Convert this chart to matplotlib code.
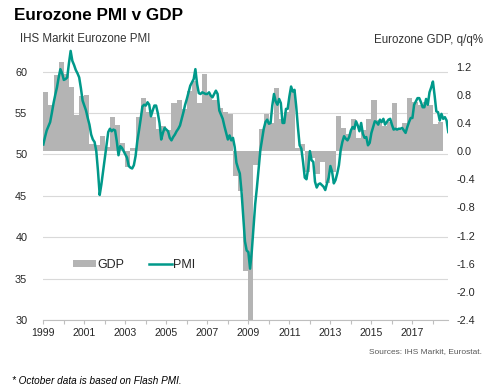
import matplotlib
matplotlib.use("Agg")
import matplotlib.pyplot as plt
from matplotlib.patches import Patch
from matplotlib.lines import Line2D
import numpy as np

plt.rcParams['font.family'] = ['Liberation Sans', 'DejaVu Sans']

# IHS Markit Eurozone composite PMI, monthly, Jan 1999 - Oct 2018
pmi = [
    51.2, 52.1, 52.9, 53.4, 53.9, 55.0, 56.2, 57.2, 58.1, 59.3, 60.3, 59.8,  # 1999
    59.0, 59.1, 59.3, 61.0, 62.5, 61.3, 60.8, 60.2, 59.8, 59.3, 58.0, 56.5,  # 2000
    55.9, 55.3, 54.4, 53.6, 52.4, 51.8, 51.5, 50.4, 48.0, 45.1, 46.4, 48.0,  # 2001
    49.6, 51.2, 52.7, 53.1, 52.8, 53.0, 52.9, 51.6, 49.9, 51.0, 50.8, 50.4,  # 2002
    50.0, 49.6, 48.6, 48.4, 48.3, 48.7, 49.8, 51.6, 52.9, 54.3, 55.8, 56.0,  # 2003
    55.9, 56.3, 56.0, 54.6, 55.3, 55.9, 55.9, 55.0, 53.8, 51.8, 52.6, 53.2,  # 2004
    53.0, 52.8, 52.0, 51.7, 52.1, 52.4, 52.8, 53.1, 53.5, 54.3, 55.1, 56.0,  # 2005
    56.7, 57.5, 58.3, 58.7, 59.1, 60.3, 58.5, 57.4, 57.3, 57.5, 57.4, 57.3,  # 2006
    57.3, 57.5, 57.1, 56.9, 57.3, 57.7, 57.3, 55.3, 54.8, 54.3, 53.4, 52.6,  # 2007
    51.8, 52.3, 51.7, 52.0, 50.9, 49.0, 48.3, 47.7, 45.5, 42.5, 39.5, 38.4,  # 2008
    38.2, 36.2, 38.3, 41.1, 44.0, 46.0, 48.3, 50.5, 51.8, 53.1, 53.9, 54.2,  # 2009
    53.7, 53.8, 55.9, 57.3, 56.4, 56.0, 56.7, 56.2, 53.8, 53.8, 55.5, 55.5,  # 2010
    57.0, 58.2, 57.6, 57.8, 55.8, 53.3, 51.1, 50.7, 49.1, 47.2, 47.0, 48.3,  # 2011
    50.4, 49.3, 49.1, 46.7, 46.0, 46.4, 46.5, 46.3, 46.1, 45.7, 46.5, 47.2,  # 2012
    48.6, 47.9, 46.5, 46.9, 47.7, 48.7, 50.5, 51.5, 52.2, 51.9, 51.7, 52.1,  # 2013
    52.9, 53.3, 53.1, 54.0, 53.5, 52.8, 53.8, 52.5, 52.0, 52.1, 51.1, 51.4,  # 2014
    52.6, 53.3, 54.0, 53.9, 53.6, 54.2, 53.9, 54.3, 53.6, 53.9, 54.2, 54.3,  # 2015
    53.6, 53.0, 53.1, 53.0, 53.1, 53.1, 53.2, 52.9, 52.6, 53.3, 53.9, 54.4,  # 2016
    54.4, 56.0, 56.4, 56.8, 56.8, 56.3, 55.7, 55.7, 56.7, 56.0, 57.5, 58.1,  # 2017
    58.8, 57.1, 55.2, 55.1, 54.1, 54.9, 54.3, 54.5, 54.1, 52.7,              # 2018
]

# Eurozone GDP q/q %, 1999 Q1 - 2018 Q2
gdp = [
    0.84, 0.65, 1.08, 1.27,
    1.10, 0.91, 0.51, 0.78,
    0.80, 0.10, 0.08, 0.21,
    0.06, 0.49, 0.37, 0.12,
    -0.22, 0.04, 0.48, 0.75,
    0.56, 0.48, 0.31, 0.35,
    0.30, 0.68, 0.73, 0.60,
    0.85, 1.00, 0.68, 1.10,
    0.80, 0.73, 0.61, 0.55,
    0.53, -0.35, -0.56, -1.70,
    -3.00, -0.20, 0.31, 0.53,
    0.40, 0.89, 0.45, 0.55,
    0.85, 0.05, 0.10, -0.30,
    -0.10, -0.33, -0.15, -0.45,
    -0.30, 0.50, 0.33, 0.25,
    0.45, 0.18, 0.30, 0.45,
    0.72, 0.44, 0.35, 0.42,
    0.68, 0.30, 0.40, 0.75,
    0.70, 0.65, 0.70, 0.66,
    0.38, 0.42,
]

pmi_ticks = [30, 35, 40, 45, 50, 55, 60]
gdp_ticks = [-2.4, -2.0, -1.6, -1.2, -0.8, -0.4, 0.0, 0.4, 0.8, 1.2]
year_labels = list(range(1999, 2018, 2))
year_minor = list(range(2000, 2019, 2))

teal = '#00998a'
grey_bar = '#b4b4b4'

pmi_x = 1999 + np.arange(len(pmi)) / 12
gdp_x = 1999 + np.arange(len(gdp)) / 4

fig = plt.figure(figsize=(5, 3.87), dpi=100)
ax_pmi = fig.add_axes([0.0866, 0.1731, 0.81, 0.7274])
ax_gdp = ax_pmi.twinx()

ax_pmi.set_xlim(1999, 1999 + (len(pmi) - 1) / 12)
ax_pmi.set_ylim(30, 64)
ax_gdp.set_ylim(-2.4, 1.6)

# gridlines live on the lower axes, so bars cover them
ax_pmi.set_yticks(pmi_ticks)
ax_pmi.grid(axis='y', color='#d9d9d9', linewidth=0.8)
ax_pmi.set_axisbelow(True)

ax_gdp.bar(gdp_x, gdp, width=0.25, align='edge', color=grey_bar,
           linewidth=0, zorder=2)
# PMI line drawn on the top axes but in PMI units, so it sits over the bars
ax_gdp.plot(pmi_x, pmi, color=teal, linewidth=1.8, zorder=3,
            transform=ax_pmi.transData, solid_joinstyle='round')

for sp in ax_gdp.spines.values():
    sp.set_visible(False)
for side in ['left', 'right', 'top']:
    ax_pmi.spines[side].set_visible(False)
ax_pmi.spines['bottom'].set_color('#bfbfbf')
ax_pmi.spines['bottom'].set_linewidth(0.8)

ax_pmi.set_xticks(year_labels)
ax_pmi.set_xticks(year_minor, minor=True)
ax_pmi.tick_params(axis='x', which='both', length=3, width=0.8,
                   color='#bfbfbf', pad=3, labelsize=7.6, labelcolor='#262626')
ax_pmi.tick_params(axis='y', length=0, pad=11.5, labelsize=7.8,
                   labelcolor='#262626')

ax_gdp.set_yticks(gdp_ticks)
ax_gdp.set_yticklabels(['%.1f' % v for v in gdp_ticks])
ax_gdp.tick_params(axis='y', length=0, pad=6, labelsize=7.8,
                   labelcolor='#262626')

handles = [Patch(facecolor=grey_bar, linewidth=0),
           Line2D([], [], color=teal, linewidth=1.8)]
ax_gdp.legend(handles, ['GDP', 'PMI'], loc='center left',
              bbox_to_anchor=(73 / 500, 1 - 265 / 387),
              bbox_transform=fig.transFigure, frameon=False, fontsize=9,
              ncol=2, handlelength=1.84, handleheight=0.55,
              handletextpad=0.1, columnspacing=2.0, borderpad=0,
              borderaxespad=0, labelcolor='#262626')

fig.text(14 / 500, 1 - 15 / 387, 'Eurozone PMI v GDP', fontsize=12.3,
         fontweight='bold', va='center', ha='left', color='black')
fig.text(20 / 500, 1 - 39 / 387, 'IHS Markit Eurozone PMI', fontsize=8.3,
         va='center', ha='left', color='#333333')
fig.text(483 / 500, 1 - 40 / 387, 'Eurozone GDP, q/q%', fontsize=8.3,
         va='center', ha='right', color='#333333')
fig.text(482 / 500, 1 - 352 / 387, 'Sources: IHS Markit, Eurostat.',
         fontsize=6, va='center', ha='right', color='#595959')
fig.text(12 / 500, 1 - 381 / 387, '* October data is based on Flash PMI.',
         fontsize=7.2, style='italic', va='center', ha='left', color='black')

fig.savefig('out.png', dpi=100)
